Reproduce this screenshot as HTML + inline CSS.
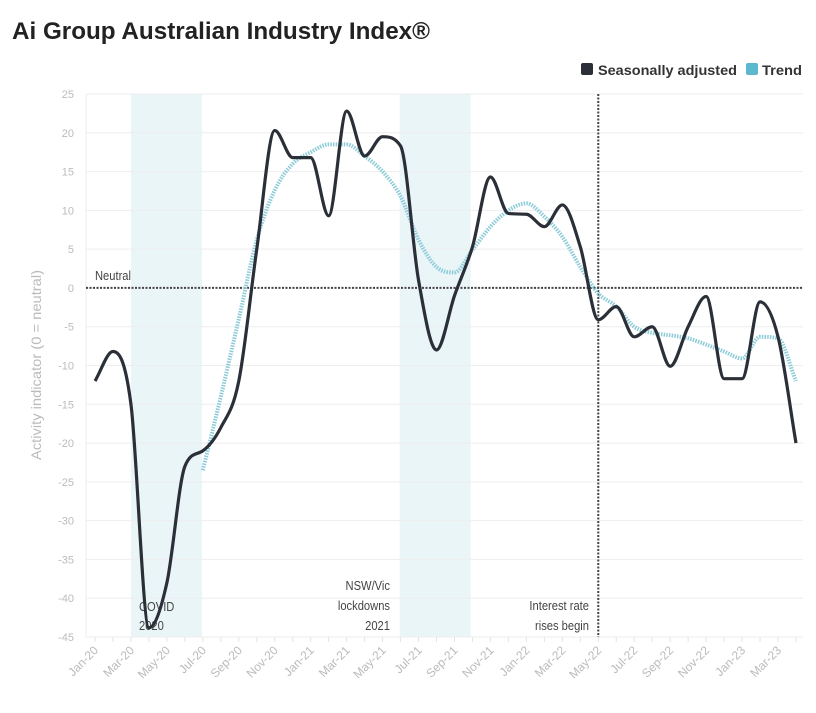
<!DOCTYPE html>
<html><head><meta charset="utf-8"><style>
body{margin:0;background:#fff;width:816px;height:708px;overflow:hidden;font-family:"Liberation Sans Narrow","Liberation Sans",sans-serif;}
</style></head><body>
<svg id="c" width="816" height="708" xmlns="http://www.w3.org/2000/svg">
<text x="12" y="39" font-size="24" font-weight="bold" fill="#222" textLength="418" lengthAdjust="spacingAndGlyphs">Ai Group Australian Industry Index®</text>
<g>
<rect x="581" y="63" width="12" height="12" rx="2" fill="#2b2f38"/>
<text x="598" y="75" font-size="14" font-weight="bold" fill="#333" textLength="139" lengthAdjust="spacingAndGlyphs">Seasonally adjusted</text>
<rect x="746" y="63" width="12" height="12" rx="2" fill="#5bb8cf"/>
<text x="762" y="75" font-size="14" font-weight="bold" fill="#333" textLength="40" lengthAdjust="spacingAndGlyphs">Trend</text>
</g>
<g id="plot"></g>
</svg>
<script>
const months=["Jan-20","Feb-20","Mar-20","Apr-20","May-20","Jun-20","Jul-20","Aug-20","Sep-20","Oct-20","Nov-20","Dec-20","Jan-21","Feb-21","Mar-21","Apr-21","May-21","Jun-21","Jul-21","Aug-21","Sep-21","Oct-21","Nov-21","Dec-21","Jan-22","Feb-22","Mar-22","Apr-22","May-22","Jun-22","Jul-22","Aug-22","Sep-22","Oct-22","Nov-22","Dec-22","Jan-23","Feb-23","Mar-23","Apr-23"];
const seasonal=[-12,-8.2,-15,-43.8,-38,-23,-21,-18,-12,5,20.3,16.8,16.8,9.3,22.8,17,19.5,18.3,1,-8,-1,5.3,14.3,9.6,9.5,7.9,10.7,5.3,-4.1,-2.4,-6.3,-5,-10.1,-5,-1.1,-11.7,-11.7,-1.8,-6.3,-20];
const trend=[null,null,null,null,null,null,-23.5,-14,-4,6.2,12.6,16,17.5,18.5,18.5,17,15,11.8,6.2,2.7,2,4.9,7.9,10,10.9,9.2,6.6,2.7,-0.7,-2.4,-5,-5.8,-6.1,-6.5,-7.3,-8.2,-9.1,-6.3,-6.5,-12];
const yTicks=[25,20,15,10,5,0,-5,-10,-15,-20,-25,-30,-35,-40,-45];
const shades=[[2,5.95],[16.95,20.9]];

const NS="http://www.w3.org/2000/svg";
const g=document.getElementById('plot');
const X0=86,X1=803,Y0=94,Y1=637;
const x=i=>95+i*(796-95)/39;
const y=v=>Y0+(25-v)*(Y1-Y0)/70;
function el(t,a,p){const e=document.createElementNS(NS,t);for(const k in a)e.setAttribute(k,a[k]);(p||g).appendChild(e);return e;}
shades.forEach(s=>{
 const r=el('rect',{x:x(s[0]),y:Y0,width:x(s[1])-x(s[0]),height:Y1-Y0,fill:'#eaf5f8'});
 
 
});
yTicks.forEach(v=>{
 const l=el('line',{x1:X0,x2:X1,y1:y(v),y2:y(v),stroke:'#eeeeee','stroke-width':1});
 
 
 const t=el('text',{x:74,y:y(v)+4,'font-size':11,fill:'#bbb','text-anchor':'end'});
 t.textContent=v;
 
 
});
const ax=el('line',{x1:X0,x2:X0,y1:Y0,y2:Y1,stroke:'#eee'});


const yt=el('text',{transform:'translate(41,365) rotate(-90)','font-size':14,fill:'#bbb','text-anchor':'middle',textLength:190,lengthAdjust:'spacingAndGlyphs'});
yt.textContent='Activity indicator (0 = neutral)';


months.forEach((m,i)=>{
 const tk=el('line',{x1:x(i),x2:x(i),y1:Y1,y2:Y1+5,stroke:'#e4e4e4'});
 
 
 if(i%2===0){
  const t=el('text',{transform:`translate(${x(i)+4},${Y1+14}) rotate(-45)`,'font-size':12,fill:'#bbb','text-anchor':'end'});
  t.textContent=m;
  
  
 }
});
const zl=el('line',{x1:X0,x2:X1,y1:y(0),y2:y(0),stroke:'#444','stroke-width':2,'stroke-dasharray':'2 1.5'});


const vl=el('line',{x1:x(28),x2:x(28),y1:Y0,y2:Y1,stroke:'#444','stroke-width':2,'stroke-dasharray':'2 1.5'});


function txt(s,xx,yy,anchor,name){const t=el('text',{x:xx,y:yy,'font-size':13,fill:'#444','text-anchor':anchor,transform:`translate(${xx},0) scale(0.86,1) translate(${-xx},0)`});t.textContent=s;}
txt('Neutral',95,280,'start','neutral-label');
txt('COVID',139,611,'start','covid-label');txt('2020',139,630,'start','covid-label');
txt('NSW/Vic',390,590,'end','lockdown-label');txt('lockdowns',390,610,'end','lockdown-label');txt('2021',390,630,'end','lockdown-label');
txt('Interest rate',589,610,'end','rate-label');txt('rises begin',589,630,'end','rate-label');
function path(vals){
 const P=[];vals.forEach((v,i)=>{if(v!==null)P.push([x(i),y(v)]);});
 const n=P.length,d=[],m=[];
 for(let i=0;i<n-1;i++)d.push((P[i+1][1]-P[i][1])/(P[i+1][0]-P[i][0]));
 for(let i=0;i<n;i++){
  if(i===0)m.push(d[0]);else if(i===n-1)m.push(d[n-2]);
  else m.push(d[i-1]*d[i]<=0?0:(d[i-1]+d[i])/2);
 }
 for(let i=0;i<n-1;i++){
  if(d[i]===0){m[i]=0;m[i+1]=0;continue;}
  const a=m[i]/d[i],b=m[i+1]/d[i],s=a*a+b*b;
  if(s>9){const t=3/Math.sqrt(s);m[i]=t*a*d[i];m[i+1]=t*b*d[i];}
 }
 let s=`M${P[0][0]},${P[0][1]}`;
 for(let i=0;i<n-1;i++){
  const h=(P[i+1][0]-P[i][0])/3;
  s+=` C${P[i][0]+h},${P[i][1]+m[i]*h} ${P[i+1][0]-h},${P[i+1][1]-m[i+1]*h} ${P[i+1][0]},${P[i+1][1]}`;
 }
 return s;
}
const tr=el('path',{d:path(trend),fill:'none',stroke:'#8ccbd8','stroke-width':4,'stroke-dasharray':'1.5 1.2'});


const sa=el('path',{d:path(seasonal),fill:'none',stroke:'#2b2f38','stroke-width':3.2,'stroke-linejoin':'round'});


</script>
</body></html>
